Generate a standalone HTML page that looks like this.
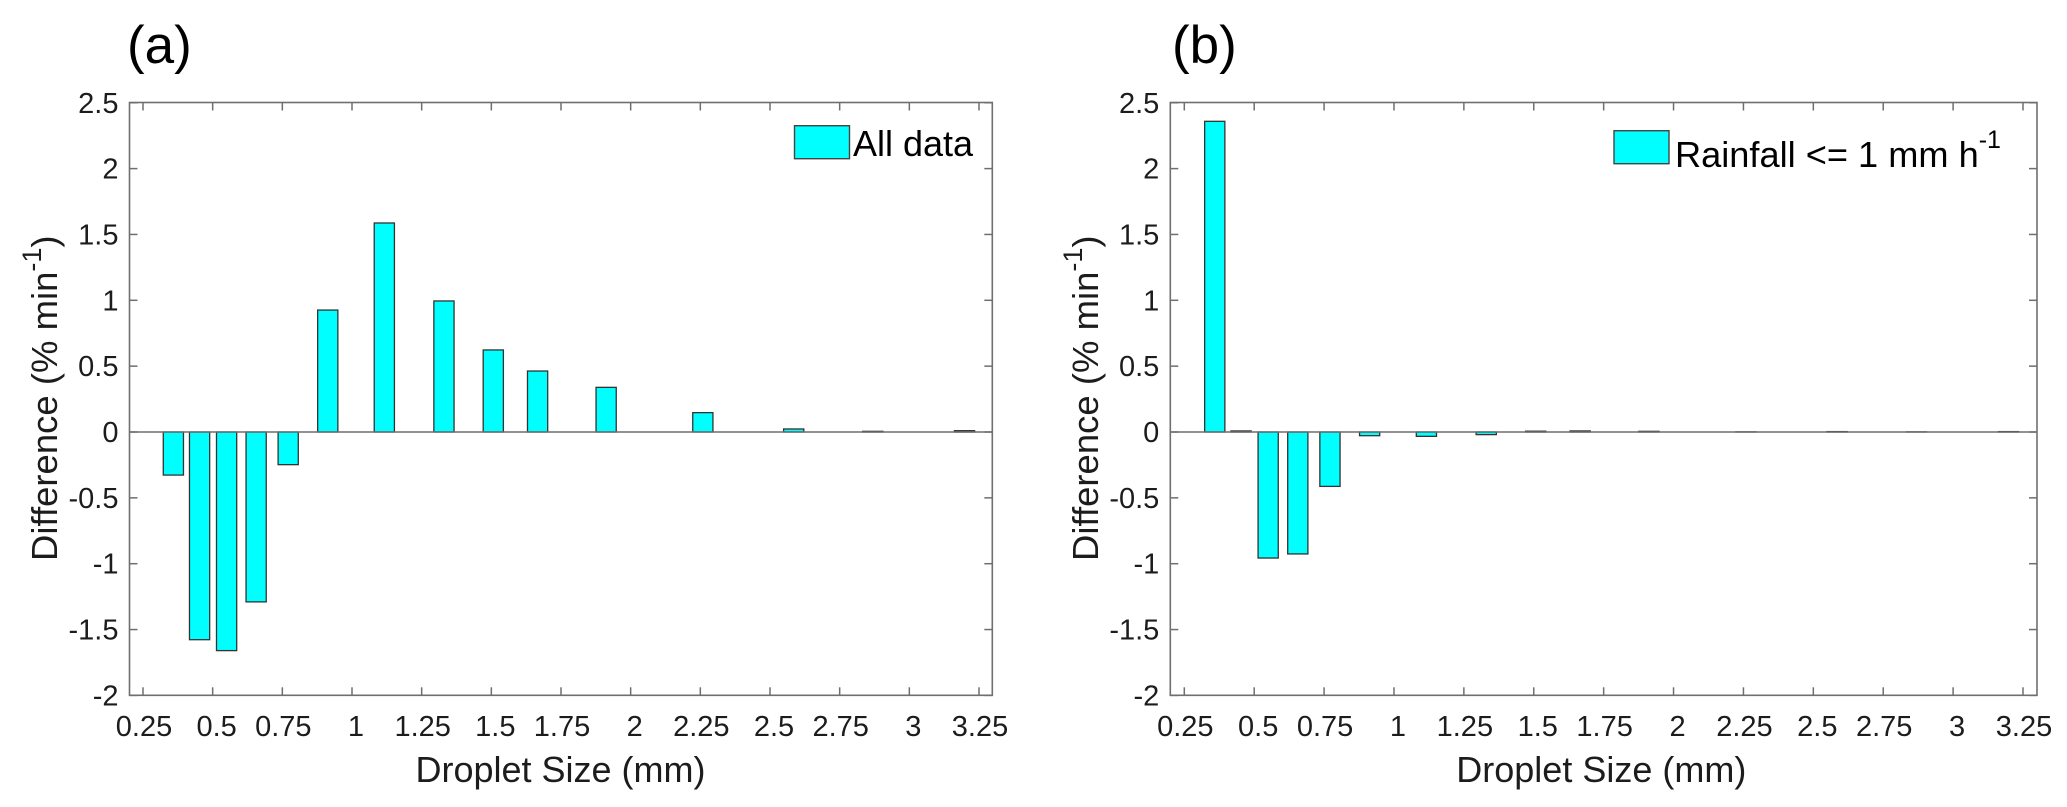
<!DOCTYPE html>
<html lang="en">
<head>
<meta charset="utf-8">
<title>Droplet size difference charts</title>
<style>
  html, body { margin: 0; padding: 0; background: #fff; }
  body { width: 2067px; height: 807px; overflow: hidden; }
  svg { display: block; font-family: "Liberation Sans", Arial, sans-serif; filter: blur(0.35px); }
</style>
</head>
<body>
<svg id="figure" width="2067" height="807" viewBox="0 0 2067 807" xmlns="http://www.w3.org/2000/svg"></svg>
<script>
const dropletSizes = [0.359, 0.453, 0.550, 0.656, 0.771, 0.913, 1.116, 1.330, 1.507, 1.666, 1.912, 2.259, 2.585, 2.869, 3.198];
const allDataDiff = [-0.327, -1.577, -1.66, -1.29, -0.248, 0.926, 1.587, 0.995, 0.623, 0.463, 0.339, 0.147, 0.023, 0.005, 0.01];
const lightRainDiff = [2.359, 0.008, -0.957, -0.926, -0.413, -0.028, -0.033, -0.02, 0.006, 0.008, 0.005, 0.001, 0.003, 0.001, 0.003];
const xTickLabels = ["0.25", "0.5", "0.75", "1", "1.25", "1.5", "1.75", "2", "2.25", "2.5", "2.75", "3", "3.25"];
const yTickLabels = ["2.5", "2", "1.5", "1", "0.5", "0", "-0.5", "-1", "-1.5", "-2"];

const NS = 'http://www.w3.org/2000/svg';
const figure = document.getElementById('figure');
const AXIS = '#6f6f6f';
const INK = '#1c1c1c';

function svgEl(parent, tag, props, content) {
  const el = document.createElementNS(NS, tag);
  for (const k in props) el.setAttribute(k, props[k]);
  if (content !== undefined) el.textContent = content;
  parent.appendChild(el);
  return el;
}

function drawPanel(cfg, values) {
  const top = 102.5, bottom = 695.3, zeroY = 432, unitY = 131.7, tickLen = 8;
  const xScale = function (v) { return cfg.tickStart + (v - 0.25) * (cfg.tickEnd - cfg.tickStart) / 3; };
  const yScale = function (v) { return zeroY - v * unitY; };
  const barWidth = 20.2;

  const g = svgEl(figure, 'g', {});
  
  

  const label = svgEl(g, 'text', { x: cfg.labelX, y: 63, 'font-size': 53, fill: '#000' }, cfg.letter);
  
  

  values.forEach(function (v, i) {
    const y0 = yScale(Math.max(v, 0));
    const h = Math.abs(yScale(v) - zeroY);
    const bar = svgEl(g, 'rect', {
      x: (xScale(dropletSizes[i]) - barWidth / 2).toFixed(2),
      y: y0.toFixed(2),
      width: barWidth,
      height: h.toFixed(2),
      fill: '#00ffff',
      stroke: '#333',
      'stroke-width': 1.3
    });
    
    
  });

  const baseline = svgEl(g, 'line', { x1: cfg.left, x2: cfg.right, y1: zeroY, y2: zeroY, stroke: AXIS, 'stroke-width': 1.6 });
  
  

  const box = svgEl(g, 'rect', { x: cfg.left, y: top, width: cfg.right - cfg.left, height: bottom - top, fill: 'none', stroke: AXIS, 'stroke-width': 1.6 });
  
  

  xTickLabels.forEach(function (t) {
    const x = xScale(parseFloat(t));
    svgEl(g, 'line', { x1: x, x2: x, y1: top, y2: top + tickLen, stroke: AXIS, 'stroke-width': 1.5 });
    svgEl(g, 'line', { x1: x, x2: x, y1: bottom, y2: bottom - tickLen, stroke: AXIS, 'stroke-width': 1.5 });
    const nudge = t.length < 4 ? 4 : 1;
    const txt = svgEl(g, 'text', { x: x + nudge, y: 736, 'font-size': 29, fill: INK, 'text-anchor': 'middle' }, t);
    
    
  });

  yTickLabels.forEach(function (t) {
    const y = yScale(parseFloat(t));
    svgEl(g, 'line', { x1: cfg.left, x2: cfg.left + tickLen, y1: y, y2: y, stroke: AXIS, 'stroke-width': 1.5 });
    svgEl(g, 'line', { x1: cfg.right, x2: cfg.right - tickLen, y1: y, y2: y, stroke: AXIS, 'stroke-width': 1.5 });
    const txt = svgEl(g, 'text', { x: cfg.left - 11, y: y + 10, 'font-size': 29, fill: INK, 'text-anchor': 'end' }, t);
    
    
  });

  const xTitle = svgEl(g, 'text', { x: cfg.left + 431, y: 782, 'font-size': 36, fill: INK, 'text-anchor': 'middle' }, 'Droplet Size (mm)');
  
  

  const yTitle = svgEl(g, 'text', { transform: 'translate(' + (cfg.left - 72.5) + ',561) rotate(-90)', 'font-size': 36.5, fill: INK });
  
  
  svgEl(yTitle, 'tspan', {}, 'Difference (% min');
  svgEl(yTitle, 'tspan', { dy: -16, 'font-size': 27 }, '-1');
  svgEl(yTitle, 'tspan', { dy: 16 }, ')');

  const swatch = svgEl(g, 'rect', { x: cfg.swatchX, y: cfg.swatchY, width: 55, height: 33, fill: '#00ffff', stroke: '#444', 'stroke-width': 1.4 });
  
  

  const legend = svgEl(g, 'text', { x: cfg.legendX, y: cfg.legendY, 'font-size': cfg.legendSize, fill: '#000' });
  
  
  svgEl(legend, 'tspan', {}, cfg.legendText);
  if (cfg.legendSup) {
    svgEl(legend, 'tspan', { dy: -19, 'font-size': 25 }, cfg.legendSup);
  }
}

drawPanel({
  name: 'panel-a', letter: '(a)', labelX: 127,
  left: 129.5, right: 992.3, tickStart: 143, tickEnd: 979,
  swatchX: 794.5, swatchY: 125.7, legendX: 853, legendY: 156, legendSize: 36, legendText: 'All data'
}, allDataDiff);

drawPanel({
  name: 'panel-b', letter: '(b)', labelX: 1172,
  left: 1170.3, right: 2037, tickStart: 1184.3, tickEnd: 2023,
  swatchX: 1614, swatchY: 130.7, legendX: 1675, legendY: 167, legendSize: 36.2, legendText: 'Rainfall <= 1 mm h', legendSup: '-1'
}, lightRainDiff);
</script>
</body>
</html>
